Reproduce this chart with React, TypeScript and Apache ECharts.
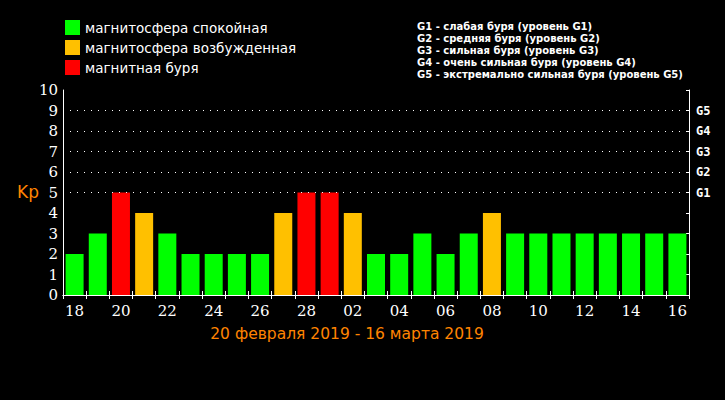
import React, { useEffect, useRef } from "react";
import * as echarts from "echarts";

const days = ["18","19","20","21","22","23","24","25","26","27","28","01","02","03","04","05","06","07","08","09","10","11","12","13","14","15","16"];
const kpValues = [2,3,5,4,3,2,2,2,2,4,5,5,4,2,2,3,2,3,4,3,3,3,3,3,3,3,3];
const gLevels = [5,6,7,8,9];
const gLabels = ["G1","G2","G3","G4","G5"];
const legendLeft = ["магнитосфера спокойная","магнитосфера возбужденная","магнитная буря"];
const legendColors = ["#00ff00","#ffc000","#ff0000"];
const legendRight = [
  "G1 - слабая буря (уровень G1)",
  "G2 - средняя буря (уровень G2)",
  "G3 - сильная буря (уровень G3)",
  "G4 - очень сильная буря (уровень G4)",
  "G5 - экстремально сильная буря (уровень G5)",
];
const periodTitle = "20 февраля 2019 - 16 марта 2019";
const yName = "Kp";

function colorFor(v: number) {
  if (v >= 5) return legendColors[2];
  if (v === 4) return legendColors[1];
  return legendColors[0];
}

export default function App() {
  const ref = useRef<HTMLDivElement>(null);
  useEffect(() => {
    if (!ref.current) return;
    document.body.style.margin = "0";
    document.body.style.background = "#000";
    const chart = echarts.init(ref.current, null, { renderer: "svg" });
    const white = "#ffffff";
    const orange = "#ff8400";
    const graphic: any[] = [];
    legendLeft.forEach((t, i) => {
      graphic.push({ type: "rect", shape: { x: 65, y: 20 + i * 20, width: 15, height: 15 }, style: { fill: legendColors[i] } });
      graphic.push({ type: "text", x: 85, y: 27.5 + i * 20, style: { text: t, fill: white, font: "13.5px 'DejaVu Sans'", textVerticalAlign: "middle" } });
    });
    legendRight.forEach((t, i) => {
      graphic.push({ type: "text", x: 417, y: 26 + i * 12, style: { text: t, fill: white, font: "bold 10px 'DejaVu Sans'", textVerticalAlign: "middle" } });
    });
    graphic.push({ type: "text", x: 17, y: 192, style: { text: yName, fill: orange, font: "17px 'DejaVu Sans'", textVerticalAlign: "middle" } });
    graphic.push({ type: "text", x: 347, y: 334, style: { text: periodTitle, fill: orange, font: "15.5px 'DejaVu Sans'", textAlign: "center", textVerticalAlign: "middle" } });

    chart.setOption({
      animation: false,
      backgroundColor: "#000000",
      grid: { left: 63, right: 36, top: 90, bottom: 105 },
      xAxis: [
        {
          type: "category",
          data: days,
          position: "bottom",
          axisLine: { lineStyle: { color: white, width: 1 } },
          axisTick: { show: true, inside: true, length: 4, interval: 0, lineStyle: { color: white } },
          axisLabel: { interval: 1, color: white, fontFamily: "DejaVu Serif", fontSize: 15, margin: 8 },
        },
        {
          type: "category",
          data: days,
          position: "top",
          axisLine: { lineStyle: { color: white, width: 1 } },
          axisTick: { show: true, inside: true, length: 4, interval: 0, lineStyle: { color: white } },
          axisLabel: { show: false },
        },
      ],
      yAxis: [
        {
          type: "value",
          min: 0,
          max: 10,
          interval: 1,
          position: "left",
          axisLine: { show: true, lineStyle: { color: white } },
          axisTick: { show: false },
          splitLine: { show: false },
          axisLabel: { color: white, fontFamily: "DejaVu Serif", fontSize: 15, margin: 5 },
        },
        {
          type: "value",
          min: 0,
          max: 10,
          interval: 1,
          position: "right",
          axisLine: { show: true, lineStyle: { color: white } },
          axisTick: { show: true, inside: true, length: 3, lineStyle: { color: white } },
          splitLine: { show: false },
          axisLabel: {
            color: white,
            fontFamily: "DejaVu Sans Mono",
            fontWeight: "bold",
            fontSize: 12,
            margin: 7,
            formatter: (v: number) => {
              const i = gLevels.indexOf(v);
              return i >= 0 ? gLabels[i] : "";
            },
          },
        },
      ],
      series: [
        {
          type: "bar",
          xAxisIndex: 0,
          yAxisIndex: 0,
          barWidth: 18,
          data: kpValues.map((v) => ({ value: v, itemStyle: { color: colorFor(v) } })),
          markLine: {
            silent: true,
            symbol: "none",
            label: { show: false },
            lineStyle: { color: white, width: 1, type: [1, 6], dashOffset: -7 },
            data: gLevels.map((g) => ({ yAxis: g })),
          },
        },
      ],
      graphic,
    });
    return () => chart.dispose();
  }, []);
  return <div ref={ref} style={{ position: "fixed", left: 0, top: 0, width: 725, height: 400 }} />;
}
